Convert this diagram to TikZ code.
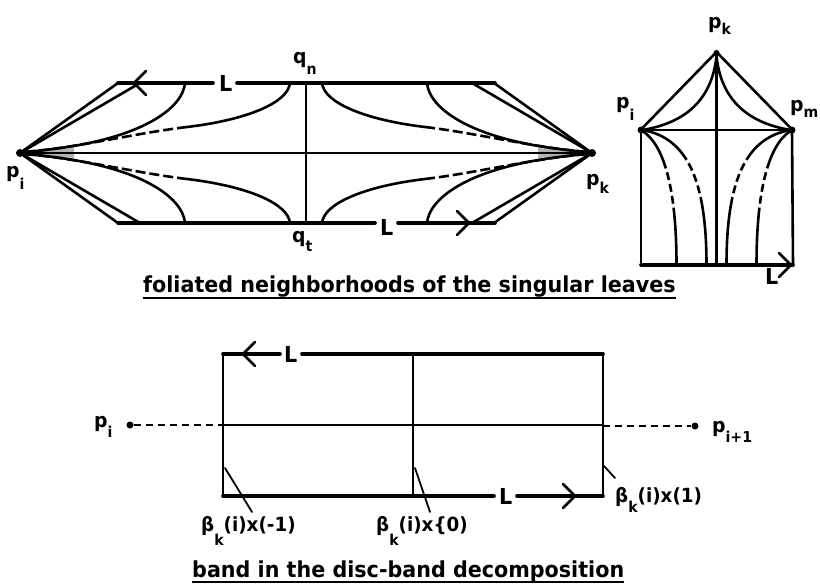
\documentclass[tikz,border=0pt]{standalone}
\usepackage{fontspec}
\setmainfont{DejaVu Sans}[FakeStretch=0.94]
\newcommand\lab[3]{#1\raisebox{-#3}{\fontsize{15}{15}\selectfont #2}}
\newcommand\leftquad{%
  \fill[gray!60] (-284,0) -- (-232,-5) -- (-232,0) -- cycle;
  \draw[ln] (-286,0) -- (-188,-70);
  \draw[ln] (-286,0) -- (-166,-70);
  \draw[ln] (-121,-70) .. controls (-123,-45) and (-165,-10) .. (-282,-1);
  \draw[ln] (-16,-70) .. controls (-18,-50) and (-60,-33) .. (-119,-26);
  \draw[dsh] (-119,-26) .. controls (-170,-20) and (-230,-5) .. (-282,-1);
}
\newcommand\righthalf{%
  \draw[ln] (0,52) -- (-76,130);
  \draw[ln] (0,56) .. controls (-4,95) and (-26,122) .. (-74,130);
  \draw[ln, line cap=butt, dash pattern=on 45pt off 4pt on 8pt off 4pt on 8pt off 4pt on 8pt off 4pt on 300pt off 1pt]
     (-74,131) .. controls (-52,145) and (-40,190) .. (-40,265);
  \draw[ln, line cap=butt, dash pattern=on 55pt off 4pt on 8pt off 4pt on 8pt off 4pt on 8pt off 4pt on 300pt off 1pt]
     (-74,130) .. controls (-27,138) and (-10,185) .. (-10,265);
}
\begin{document}
\begin{tikzpicture}[x=1pt,y=-1pt,line cap=round,line join=round,
  ln/.style={line width=2.6pt},
  thk/.style={line width=3.6pt},
  thin/.style={line width=1.8pt},
  dsh/.style={line width=2.6pt,line cap=butt,dash pattern=on 10pt off 4pt},
  fine/.style={line width=1.5pt,line cap=butt,dash pattern=on 7pt off 5pt},
  dotn/.style={circle,fill=black,inner sep=0pt,minimum size=#1},
  dotn/.default=8pt,
  lbl/.style={inner sep=0pt,anchor=base west,font=\fontsize{20}{20}\selectfont\bfseries},
  Lbl/.style={inner sep=0pt,anchor=base west,font=\fontsize{22}{22}\selectfont\bfseries},
  blbl/.style={inner sep=0pt,anchor=base west,font=\fontsize{19.5}{19.5}\selectfont\bfseries}]
\useasboundingbox (0,0) rectangle (820,586);

% ---------- left figure ----------
\begin{scope}[shift={(306,153)}]
  \leftquad
  \begin{scope}[xscale=-1]\leftquad\end{scope}
  \begin{scope}[yscale=-1]\leftquad\end{scope}
  \begin{scope}[xscale=-1,yscale=-1]\leftquad\end{scope}
\end{scope}
\node[dotn] (pi) at (20,153) {};
\node[dotn] (pk) at (592,153) {};
\draw[ln] (pi.center) -- (pk.center);
\coordinate (tl) at (118,83); \coordinate (tr) at (495,83);
\coordinate (bl) at (118,223); \coordinate (br) at (495,223);
\draw[thk] (tl) -- (213,83);
\draw[thk] (237,83) -- (tr);
\draw[thk] (bl) -- (375,223);
\draw[thk] (398,223) -- (br);
\draw[ln] (306,83) -- (306,223);
\draw[ln] (146,71) -- (134,83) -- (146,95);
\draw[ln] (457,211) -- (469,223) -- (457,235);
\node[Lbl] (Ltop) at (219,92) {L};
\node[Lbl] (Lbot) at (380,235) {L};
\node[lbl] (lpi) at (6,177) {\lab{p}{i}{12pt}};
\node[lbl] (lpk) at (586,185) {\lab{p}{k}{9pt}};
\node[lbl] (lqn) at (293,64) {\lab{q}{n}{11pt}};
\node[lbl] (lqt) at (292,242) {\lab{q}{t}{9pt}};

\node[Lbl] (cap1) at (143,292) {foliated neighborhoods of the singular leaves};
\draw[line width=2.2pt,line cap=butt] ([yshift=-6pt]cap1.base west) -- ([yshift=-6pt]cap1.base east);

% ---------- right figure ----------
\begin{scope}[shift={(716.5,0)}]
  \righthalf
  \begin{scope}[xscale=-1]\righthalf\end{scope}
\end{scope}
\node[dotn=6pt] (rk) at (716.5,53) {};
\node[dotn=7pt] (ri) at (641,130) {};
\node[dotn=7pt] (rm) at (792,130) {};
\draw[ln] (ri.center) -- (rm.center);
\draw[ln] (rk.center) -- (716.5,265);
\draw[ln] (ri.center) -- (641,265);
\draw[ln] (rm.center) -- (793,265);
\draw[thk] (641,265) -- (793,265);
\draw[ln] (779,253) -- (791,265) -- (779,277);
\node[Lbl] (Lr) at (765,284) {L};
\node[lbl] (rlk) at (708,29) {\lab{p}{k}{6pt}};
\node[lbl] (rli) at (616,109) {\lab{p}{i}{12pt}};
\node[lbl] (rlm) at (790,111) {\lab{p}{m}{6pt}};

% ---------- bottom figure ----------
\coordinate (a1) at (223,354); \coordinate (a2) at (603,354);
\coordinate (a3) at (603,496); \coordinate (a4) at (223,496);
\draw[thk] (a1) -- (280,354);
\draw[thk] (302,354) -- (a2);
\draw[thk] (a4) -- (494,496);
\draw[thk] (517,496) -- (a3);
\draw[ln] (a1) -- (a4);
\draw[ln] (a2) -- (a3);
\draw[ln] (413,354) -- (413,496);
\draw[ln] (223,425) -- (603,425);
\draw[ln] (255,342) -- (243,354) -- (255,366);
\draw[ln] (563,484) -- (575,496) -- (563,508);
\node[Lbl] (Lb1) at (284,362) {L};
\node[Lbl] (Lb2) at (499,504) {L};
\node[dotn=7pt] (bpi) at (130,425) {};
\node[dotn=7pt] (bpj) at (695,426) {};
\draw[fine] (bpi) -- (223,425);
\draw[fine] (603,426) -- (bpj);
\node[lbl] (lbpi) at (94,427) {\lab{p}{i}{10pt}};
\node[lbl] (lbpj) at (712,432) {\lab{p}{i+1}{10pt}};
\draw[thin] (225,468) -- (252,512);
\draw[thin] (415,468) -- (430,512);
\draw[thin] (604,466) -- (615,478);
\node[blbl] (b1) at (201,531) {β\lab{}{k}{14pt}(i)x(-1)};
\node[blbl] (b2) at (376,531) {β\lab{}{k}{14pt}(i)x\{0)};
\node[blbl] (b3) at (615,502) {β\lab{}{k}{10pt}(i)x(1)};
\node[Lbl] (cap2) at (192,577) {band in the disc-band decomposition};
\draw[line width=2.2pt,line cap=butt] ([yshift=-5pt]cap2.base west) -- ([yshift=-5pt]cap2.base east);
\end{tikzpicture}
\end{document}
